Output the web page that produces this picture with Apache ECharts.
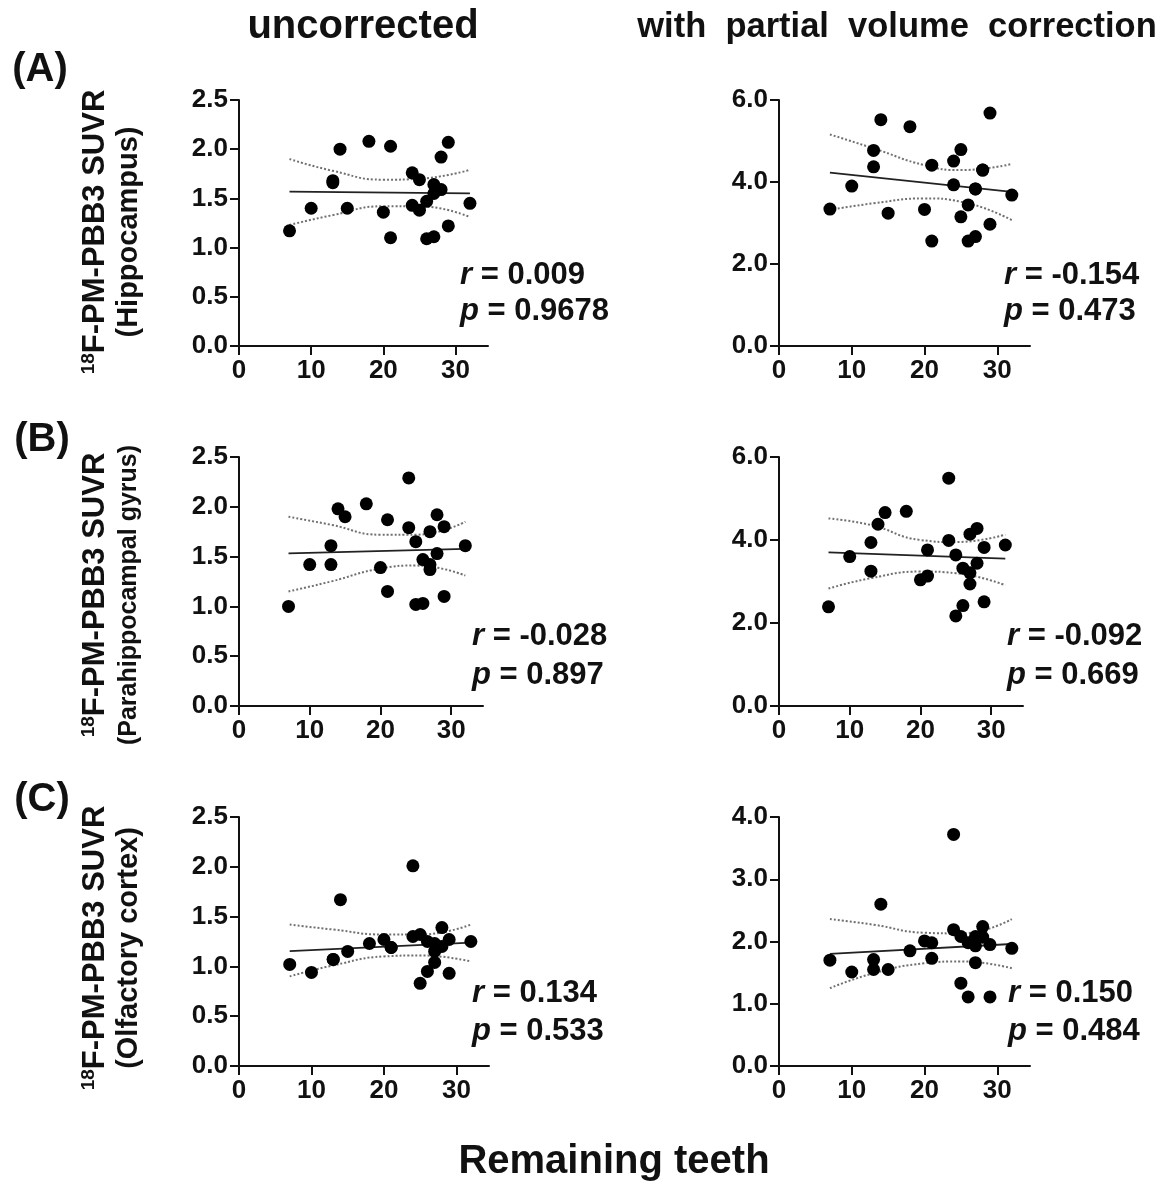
<!DOCTYPE html>
<html>
<head>
<meta charset="utf-8">
<script src="https://cdn.jsdelivr.net/npm/echarts@6/dist/echarts.min.js"></script>
<style>
  html, body { margin: 0; padding: 0; background: #fff; }
  #main { width: 1166px; height: 1191px; }
</style>
</head>
<body>
<div id="main"></div>
<script>
var chartDom = document.getElementById('main');
var myChart = echarts.init(chartDom);
var option;

// Remaining teeth per subject (same order in every panel)
const teeth = [7, 10, 13, 13, 14, 15, 18, 20, 21, 21, 24, 24, 25, 25, 26, 26, 27, 27, 27, 28, 28, 29, 29, 32];

// SUVR values, in the same order as teeth
const hippoRaw = [1.17, 1.40, 1.68, 1.66, 2.00, 1.40, 2.08, 1.36, 2.03, 1.10, 1.76, 1.43, 1.69, 1.38, 1.47, 1.09, 1.11, 1.64, 1.55, 1.59, 1.92, 2.07, 1.22, 1.45];
const hippoPvc = [3.34, 3.90, 4.77, 4.37, 5.52, 3.24, 5.35, 3.33, 4.41, 2.56, 4.51, 3.93, 4.79, 3.15, 3.44, 2.56, 2.67, 3.83, 3.83, 4.29, 4.29, 5.68, 2.97, 3.68];
const paraRaw = [1.00, 1.42, 1.61, 1.42, 1.98, 1.90, 2.03, 1.39, 1.87, 1.15, 2.29, 1.79, 1.65, 1.02, 1.03, 1.47, 1.75, 1.42, 1.37, 1.92, 1.53, 1.80, 1.10, 1.61];
const paraPvc = [2.39, 3.60, 3.94, 3.25, 4.38, 4.66, 4.69, 3.04, 3.13, 3.76, 5.49, 3.99, 3.64, 2.17, 2.42, 3.32, 4.14, 3.21, 2.94, 4.28, 3.44, 3.82, 2.51, 3.88];
const olfRaw = [1.02, 0.94, 1.07, 1.07, 1.67, 1.15, 1.23, 1.27, 1.19, 1.19, 2.01, 1.30, 1.32, 0.83, 1.25, 0.95, 1.23, 1.15, 1.04, 1.39, 1.20, 1.27, 0.93, 1.25];
const olfPvc = [1.70, 1.51, 1.71, 1.55, 2.60, 1.55, 1.85, 2.01, 1.98, 1.73, 3.72, 2.19, 2.08, 1.33, 1.98, 1.11, 1.93, 2.08, 1.66, 2.24, 2.07, 1.95, 1.11, 1.89];

// Regression line ends (at fitX) and 95% band read at bandX
const fitX = [7, 32];
const bandX = [7, 13, 20, 25, 32];
const fitHippoRaw = [1.568, 1.551];
const upHippoRaw = [1.90, 1.78, 1.69, 1.70, 1.79];
const loHippoRaw = [1.23, 1.33, 1.42, 1.42, 1.31];
const fitHippoPvc = [4.23, 3.76];
const upHippoPvc = [5.16, 4.82, 4.41, 4.29, 4.44];
const loHippoPvc = [3.32, 3.48, 3.60, 3.52, 3.07];
const fitParaRaw = [1.533, 1.577];
const upParaRaw = [1.90, 1.82, 1.72, 1.72, 1.85];
const loParaRaw = [1.15, 1.25, 1.38, 1.41, 1.31];
const fitParaPvc = [3.70, 3.55];
const upParaPvc = [4.52, 4.36, 4.00, 3.95, 4.13];
const loParaPvc = [2.83, 3.08, 3.24, 3.20, 2.91];
const fitOlfRaw = [1.154, 1.238];
const upOlfRaw = [1.42, 1.37, 1.32, 1.32, 1.42];
const loOlfRaw = [0.90, 1.01, 1.10, 1.11, 1.05];
const fitOlfPvc = [1.80, 1.96];
const upOlfPvc = [2.36, 2.27, 2.14, 2.13, 2.36];
const loOlfPvc = [1.25, 1.49, 1.65, 1.68, 1.57];

// x axis ticks and stats text
const xTicks = [0, 10, 20, 30];
const stats = [
  ['0.009', '0.9678'], ['-0.154', '0.473'],
  ['-0.028', '0.897'], ['-0.092', '0.669'],
  ['0.134', '0.533'], ['0.150', '0.484']
];

const panels = [
  { y: hippoRaw, fit: fitHippoRaw, up: upHippoRaw, lo: loHippoRaw, max: 2.5, step: 0.5,
    grid: { left: 239, top: 100, width: 249, height: 246 }, txt: [460, 275, 311] },
  { y: hippoPvc, fit: fitHippoPvc, up: upHippoPvc, lo: loHippoPvc, max: 6, step: 2,
    grid: { left: 779, top: 100, width: 251, height: 246 }, txt: [1004, 275, 311] },
  { y: paraRaw, fit: fitParaRaw, up: upParaRaw, lo: loParaRaw, max: 2.5, step: 0.5,
    grid: { left: 239, top: 457, width: 244, height: 249 }, txt: [472, 636, 675] },
  { y: paraPvc, fit: fitParaPvc, up: upParaPvc, lo: loParaPvc, max: 6, step: 2,
    grid: { left: 779, top: 457, width: 244, height: 249 }, txt: [1007, 636, 675] },
  { y: olfRaw, fit: fitOlfRaw, up: upOlfRaw, lo: loOlfRaw, max: 2.5, step: 0.5,
    grid: { left: 239, top: 817, width: 250, height: 249 }, txt: [472, 993, 1031] },
  { y: olfPvc, fit: fitOlfPvc, up: upOlfPvc, lo: loOlfPvc, max: 4, step: 1,
    grid: { left: 779, top: 817, width: 251, height: 249 }, txt: [1008, 993, 1031] }
];

const FONT = '"Liberation Sans", Arial, sans-serif';
const axisLine = { lineStyle: { color: '#111', width: 2 } };
const axisTick = { length: 9, lineStyle: { color: '#111', width: 2 } };
const labelStyle = { color: '#111', fontFamily: FONT, fontWeight: 'bold', fontSize: 26 };

let grid = [], xAxis = [], yAxis = [], series = [], graphic = [];

function zip(xs, ys) {
  return xs.map(function (x, i) { return [x, ys[i]]; });
}

panels.forEach(function (p, idx) {
  grid.push(p.grid);
  xAxis.push({
    type: 'value', gridIndex: idx, min: 0, max: 34.5,
    splitLine: { show: false },
    axisLine: axisLine,
    axisTick: Object.assign({ customValues: xTicks }, axisTick),
    axisLabel: Object.assign({ customValues: xTicks, margin: 12 }, labelStyle)
  });
  yAxis.push({
    type: 'value', gridIndex: idx, min: 0, max: p.max, interval: p.step,
    splitLine: { show: false },
    axisLine: Object.assign({ show: true }, axisLine),
    axisTick: Object.assign({ show: true }, axisTick),
    axisLabel: Object.assign({ margin: 11, formatter: function (v) { return v.toFixed(1); } }, labelStyle)
  });
  const dotted = { color: '#707070', width: 2, type: 'dotted' };
  series.push({
    type: 'line', xAxisIndex: idx, yAxisIndex: idx, smooth: true, symbol: 'none',
    lineStyle: dotted, data: zip(bandX, p.up), z: 1, silent: true
  });
  series.push({
    type: 'line', xAxisIndex: idx, yAxisIndex: idx, smooth: true, symbol: 'none',
    lineStyle: dotted, data: zip(bandX, p.lo), z: 1, silent: true
  });
  series.push({
    type: 'line', xAxisIndex: idx, yAxisIndex: idx, symbol: 'none',
    lineStyle: { color: '#222', width: 1.8 }, data: zip(fitX, p.fit), z: 2, silent: true
  });
  series.push({
    type: 'scatter', xAxisIndex: idx, yAxisIndex: idx, symbolSize: 13,
    itemStyle: { color: '#000', opacity: 1 }, data: zip(teeth, p.y), z: 3
  });
  // r and p text
  const rich = {
    i: { fontFamily: FONT, fontWeight: 'bold', fontStyle: 'italic', fontSize: 31, fill: '#111' },
    n: { fontFamily: FONT, fontWeight: 'bold', fontSize: 31, fill: '#111' }
  };
  graphic.push({
    type: 'text', x: p.txt[0], y: p.txt[1],
    style: { text: '{i|r}{n| = ' + stats[idx][0] + '}', rich: rich, align: 'left', verticalAlign: 'middle' }
  });
  graphic.push({
    type: 'text', x: p.txt[0], y: p.txt[2],
    style: { text: '{i|p}{n| = ' + stats[idx][1] + '}', rich: rich, align: 'left', verticalAlign: 'middle' }
  });
});

// Column titles, panel letters and axis titles
const bold = function (size) { return 'bold ' + size + 'px ' + FONT; };
graphic.push(
  { type: 'text', x: 363, y: 27, style: { text: 'uncorrected', font: bold(40), fill: '#111', align: 'center', verticalAlign: 'middle' } },
  { type: 'text', x: 897, y: 27, style: { text: 'with  partial  volume  correction', font: bold(34.5), fill: '#111', align: 'center', verticalAlign: 'middle' } },
  { type: 'text', x: 614, y: 1162, style: { text: 'Remaining teeth', font: bold(40), fill: '#111', align: 'center', verticalAlign: 'middle' } },
  { type: 'text', x: 40, y: 70, style: { text: '(A)', font: bold(40), fill: '#111', align: 'center', verticalAlign: 'middle' } },
  { type: 'text', x: 42, y: 440, style: { text: '(B)', font: bold(40), fill: '#111', align: 'center', verticalAlign: 'middle' } },
  { type: 'text', x: 42, y: 800, style: { text: '(C)', font: bold(40), fill: '#111', align: 'center', verticalAlign: 'middle' } }
);

const regions = [['(Hippocampus)', 232, 29], ['(Parahippocampal gyrus)', 595, 25], ['(Olfactory cortex)', 948, 29]];
regions.forEach(function (r) {
  graphic.push({
    type: 'text', x: 95, y: r[1], rotation: Math.PI / 2,
    style: {
      text: '{s|18}{m|F-PM-PBB3 SUVR}',
      rich: {
        s: { fontFamily: FONT, fontWeight: 'bold', fontSize: 19, verticalAlign: 'top', fill: '#111' },
        m: { fontFamily: FONT, fontWeight: 'bold', fontSize: 31, fill: '#111' }
      },
      align: 'center', verticalAlign: 'middle'
    }
  });
  graphic.push({
    type: 'text', x: 129, y: r[1], rotation: Math.PI / 2,
    style: { text: r[0], font: bold(r[2]), fill: '#111', align: 'center', verticalAlign: 'middle' }
  });
});

option = {
  backgroundColor: '#fff',
  animation: false,
  grid: grid,
  xAxis: xAxis,
  yAxis: yAxis,
  series: series,
  graphic: graphic
};

option && myChart.setOption(option);
</script>
</body>
</html>
